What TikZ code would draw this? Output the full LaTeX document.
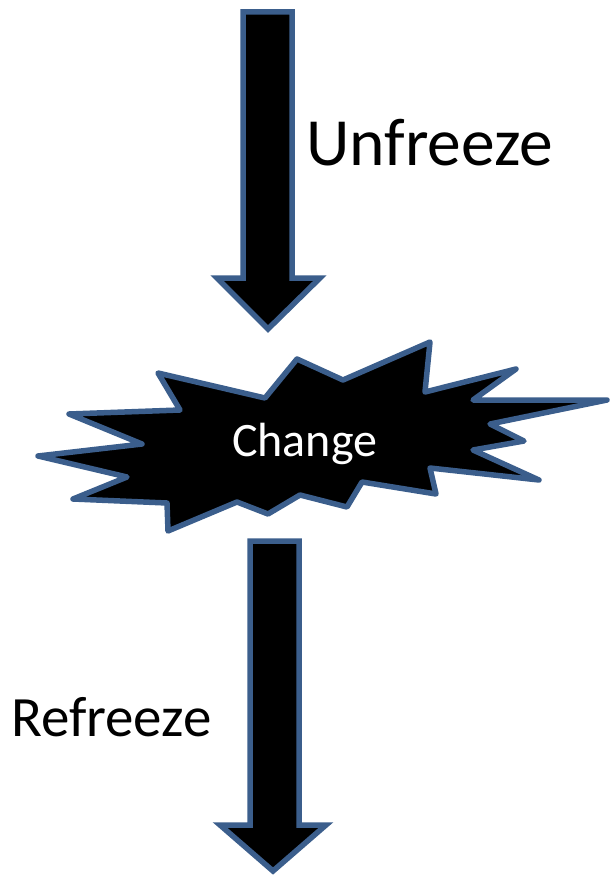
\documentclass[tikz,border=0pt]{standalone}
\usepackage{fontspec}
\setmainfont{Carlito}
\definecolor{edgeblue}{HTML}{3B5E8C}
\tikzset{
  blockshape/.style={fill=black, draw=edgeblue, line width=5.5pt, line join=miter},
  starshape/.style={fill=black, draw=edgeblue, line width=5.5pt, line join=round},
  lbl/.style={inner sep=0pt, anchor=base west}
}
\begin{document}
\begin{tikzpicture}[x=1pt,y=-1pt]
\useasboundingbox (0,0) rectangle (611,875);
% top arrow
\draw[blockshape] (243,12) -- (292,12) -- (292,278) -- (320,278) -- (268,329) -- (217,278) -- (243,278) -- cycle;
% bottom arrow
\draw[blockshape] (250,541) -- (299,541) -- (299,825) -- (326,825) -- (273,871) -- (220,825) -- (250,825) -- cycle;
% starburst
\draw[starshape] (38,456) -- (142,444) -- (69,414) -- (180,410) -- (158,373) -- (265,398) -- (297,359)
  -- (343,380) -- (430,342) -- (425,392) -- (516,369) -- (473,400) -- (607,400) -- (490,424)
  -- (524,441) -- (473,450) -- (539,480) -- (430,468) -- (436,494) -- (362,482) -- (347,507)
  -- (300,495) -- (268,514) -- (237,502) -- (168,531) -- (167,503) -- (73,499) -- (127,477) -- cycle;
\node[lbl, text=white, font=\fontsize{48}{54}\selectfont] (change) at (232,456) {Change};
\node[lbl, font=\fontsize{67.5}{78}\selectfont] (unfreeze) at (306,165) {Unfreeze};
\node[lbl, font=\fontsize{57}{66}\selectfont] (refreeze) at (11,736) {Refreeze};
\end{tikzpicture}
\end{document}
